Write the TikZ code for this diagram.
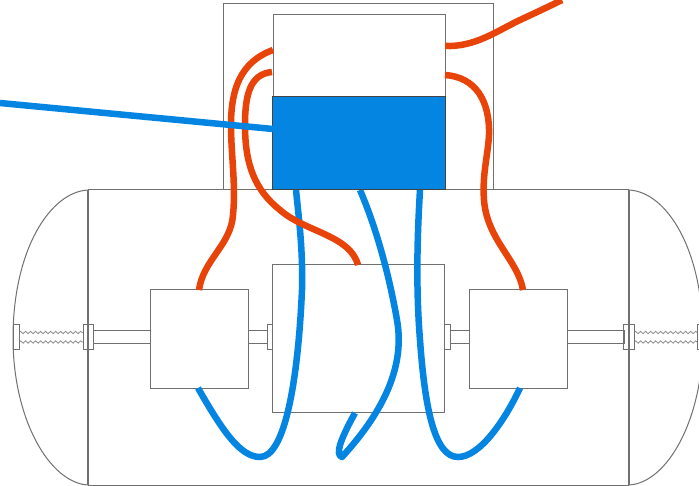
\documentclass[tikz,border=0pt]{standalone}
\usetikzlibrary{decorations.pathmorphing}
\definecolor{wireblue}{HTML}{0585E2}
\definecolor{wirered}{HTML}{E8440A}
\definecolor{edge}{HTML}{707070}
\tikzset{
  outline/.style={draw=edge,line width=1pt},
  part/.style={draw=edge,line width=1pt,fill=white},
  coil/.style={draw=edge!80,line width=0.8pt,decorate,decoration={snake,segment length=5pt,amplitude=1.2pt}},
  redwire/.style={draw=wirered,line width=6.5pt,line cap=butt},
  bluewire/.style={draw=wireblue,line width=6.5pt,line cap=butt},
}
\begin{document}
\begin{tikzpicture}[x=1pt,y=-1pt]
\useasboundingbox (0,0) rectangle (699,486);
\fill[white] (0,0) rectangle (699,486);
\begin{scope}
\clip (0,0) rectangle (699,486);

% Tank shell with domed ends
\draw[outline] (88,190) -- (629,190) (88,485) -- (629,485);
\draw[outline,line width=1.5pt] (88,190) -- (88,485) (629,190) -- (629,485);
\draw[outline] (88,190) .. controls (50,192) and (13,250) .. (13,338) .. controls (13,420) and (50,483) .. (88,485);
\draw[outline] (629,190) .. controls (667,192) and (703,250) .. (703,338) .. controls (703,420) and (667,483) .. (629,485);

% Upper housing and control boxes
\draw[outline] (223,190) -- (223,4) -- (493,4) -- (493,190);
\draw[part] (273,15) rectangle (445,97);

% Springs between the shell and the flanges
\foreach \yy in {332.5,342}{
  \draw[coil] (19,\yy) -- (83,\yy);
  \draw[coil] (634,\yy) -- (698,\yy);
}
\draw[part] (13.5,325) rectangle (19,350);
\draw[part] (697.5,325) rectangle (703,350);

% Shafts and flanges
\draw[part] (93,331) rectangle (150,343.5);
\draw[part] (567,331) rectangle (624,343.5);
\draw[part] (247,331) rectangle (267,343.5);
\draw[part] (450,331) rectangle (469,343.5);
\draw[outline] (83,325) rectangle (93,350);
\draw[outline] (623.5,325) rectangle (634,350);
\draw[part] (267,325) rectangle (272,350);
\draw[part] (444,325) rectangle (450,350);

% Actuator boxes
\draw[part] (150,290) rectangle (248,388);
\draw[part] (469,290) rectangle (567,388);
\draw[part] (272,265) rectangle (444,412);

% Blue lines running down from the blue box
\draw[bluewire] (198,388) .. controls (222,430) and (240,457) .. (260,457)
  .. controls (285,457) and (298,380) .. (302,290)
  .. controls (303,250) and (299,220) .. (296,190);
\draw[bluewire,line join=round] (360,190) .. controls (378,232) and (390,280) .. (397,320)
  .. controls (405,365) and (385,410) .. (342,457)
  .. controls (335,455) and (340,440) .. (355,413);
\draw[bluewire] (420,190) .. controls (417,240) and (416,290) .. (420,340)
  .. controls (425,410) and (435,457) .. (458,457)
  .. controls (480,457) and (505,420) .. (520,388);

% Red lines
\draw[redwire] (273,50) .. controls (240,62) and (231,90) .. (231,125)
  .. controls (231,155) and (236,185) .. (233,215)
  .. controls (231,245) and (203,260) .. (199,290);
\draw[redwire] (272,72) .. controls (250,74) and (245,95) .. (245,125)
  .. controls (245,165) and (255,190) .. (280,210)
  .. controls (305,232) and (350,235) .. (358,265);
\draw[redwire] (445,46) .. controls (475,47) and (495,32) .. (520,20)
  .. controls (535,13) and (550,6) .. (562,0);
\draw[redwire] (445,75) .. controls (475,77) and (490,100) .. (489,135)
  .. controls (488,155) and (482,175) .. (484,200)
  .. controls (487,240) and (518,260) .. (523,290);

% Blue box and its feed line
\draw[draw=edge!60!black,fill=wireblue,line width=1pt] (272.5,96.5) rectangle (445,190);
\path (0,103) coordinate (feedstart) (273,129) coordinate (feedend);
\draw[bluewire] (feedstart) -- (feedend);
\end{scope}
\end{tikzpicture}
\end{document}
